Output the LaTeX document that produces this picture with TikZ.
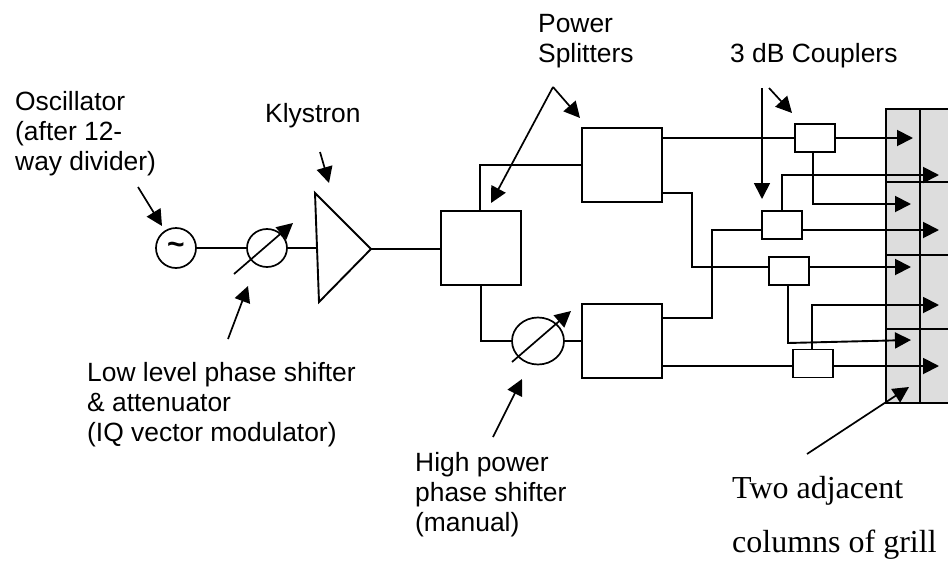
\documentclass[tikz,border=0pt]{standalone}
\usepackage{fontspec}
\setmainfont{Liberation Sans}
\newfontfamily\timesfam{Liberation Serif}
\usetikzlibrary{arrows.meta,shapes.geometric}
\definecolor{grillgray}{HTML}{DDDDDD}
\newcommand{\firstsans}{\rule{0pt}{20pt}}
\newcommand{\firstserif}{\rule{0pt}{24pt}}
\tikzset{
  x=1pt,y=-1pt,
  wire/.style={line width=1.9pt,line join=miter},
  arr/.style={wire,-{Triangle[length=16pt,width=16pt]}},
  callout/.style={line width=1.7pt,-{Triangle[length=16pt,width=16pt]}},
  boxn/.style={draw,line width=1.9pt,fill=white,minimum width=80pt,minimum height=74pt,inner sep=0pt,outer sep=0pt},
  coupler/.style={draw,line width=1.9pt,fill=white,minimum width=40pt,minimum height=28pt,inner sep=0pt,outer sep=0pt},
  lab/.style={font=\fontsize{26.4}{30.3}\selectfont,align=left,anchor=north west,inner sep=0pt},
  serif/.style={font=\timesfam\fontsize{32}{54}\selectfont,align=left,anchor=north west,inner sep=0pt},
}
\begin{document}
\begin{tikzpicture}
\useasboundingbox (0,0) rectangle (948,565);
% grill
\fill[grillgray] (886,109) rectangle (948,403);
\draw[wire] (948,109) -- (886,109) -- (886,403) -- (948,403);
\draw[wire] (920,109) -- (920,403);
\foreach \yy in {182,255,329} \draw[wire] (886,\yy) -- (948,\yy);
% components
\node[draw,circle,line width=1.7pt,minimum size=40pt,inner sep=0pt,outer sep=0pt,font=\bfseries\fontsize{30}{30}\selectfont] (osc) at (176,248) {\raisebox{-2pt}{\textasciitilde}};
\node[draw,ellipse,line width=1.7pt,minimum width=40pt,minimum height=38pt,inner sep=0pt,outer sep=0pt] (lps) at (267,248) {};
\coordinate (k1) at (315,193); \coordinate (k2) at (319,302); \coordinate (kout) at (371,249); \coordinate (kin) at (317,248);
\draw[wire] (k1) -- (kout) -- (k2) -- cycle;
\node[boxn] (sa) at (481,248) {};
\node[boxn] (sb) at (622,165) {};
\node[boxn] (sc) at (622,341) {};
\node[draw,ellipse,line width=1.7pt,minimum width=52pt,minimum height=47pt,inner sep=0pt,outer sep=0pt] (hps) at (538,341) {};
\node[coupler] (c1) at (815,138) {};
\node[coupler] (c2) at (782,225) {};
\node[coupler] (c3) at (789,271) {};
\node[coupler] (c4) at (813,363.5) {};
% wires
\draw[wire] (osc.east) -- (lps.west);
\draw[wire] (lps.east) -- (kin);
\draw[wire] (kout) -- (kout -| sa.west);
\coordinate (ja) at (480,165);
\draw[wire] (ja |- sa.north) -- (ja) -- (ja -| sb.west);
\coordinate (jb) at (481,341);
\draw[wire] (jb |- sa.south) -- (jb) -- (hps.west);
\draw[wire] (hps.east) -- (hps.east -| sc.west);
\coordinate (b1) at (662,138); \coordinate (b2) at (662,193);
\coordinate (c1y) at (692,193); \coordinate (c1z) at (692,267);
\draw[wire] (b1) -- (b1 -| c1.west);
\draw[wire] (b2) -- (c1y) -- (c1z) -- (c1z -| c3.west);
\coordinate (s1) at (662,318); \coordinate (s2) at (712,318); \coordinate (s3) at (712,230);
\draw[wire] (s1) -- (s2) -- (s3) -- (s3 -| c2.west);
\coordinate (s4) at (662,366);
\draw[wire] (s4) -- (s4 -| c4.west);
% outputs
\coordinate (t1) at (913,138); \draw[arr] (c1.east |- t1) -- (t1);
\coordinate (t1b) at (911,204); \coordinate (d1) at (813,204);
\draw[arr] (d1 |- c1.south) -- (d1) -- (t1b);
\coordinate (d2) at (782,175); \coordinate (t2b) at (939,175);
\draw[arr] (d2 |- c2.north) -- (d2) -- (t2b);
\coordinate (t2) at (939,230); \draw[arr] (c2.east |- t2) -- (t2);
\coordinate (t3) at (911,267); \draw[arr] (c3.east |- t3) -- (t3);
\coordinate (d3) at (788,343); \coordinate (t3b) at (911,340);
\draw[arr] (d3 |- c3.south) -- (d3) -- (t3b);
\coordinate (d4) at (812,305); \coordinate (t4b) at (939,305);
\draw[arr] (d4 |- c4.north) -- (d4) -- (t4b);
\coordinate (t4) at (939,366); \draw[arr] (c4.east |- t4) -- (t4);
% variable arrows
\coordinate (v1) at (234,274); \coordinate (v1t) at (293,223);
\draw[callout] (v1) -- (v1t);
\coordinate (v2) at (512,362); \coordinate (v2t) at (571,311);
\draw[callout] (v2) -- (v2t);
% labels
\node[lab] (tosc) at (15,90) {\firstsans Oscillator\\(after 12-\\way divider)};
\node[lab] (tkly) at (265,102) {\firstsans Klystron};
\node[lab] (tpow) at (538,12) {\firstsans Power\\Splitters};
\node[lab] (tcoup) at (730,42) {\firstsans 3 dB Couplers};
\node[lab] (tlow) at (87,361) {\firstsans Low level phase shifter\\\&\ attenuator\\(IQ vector modulator)};
\node[lab] (thigh) at (415,451) {\firstsans High power\\phase shifter\\(manual)};
\node[serif] (tgrill) at (732,474) {\firstserif Two adjacent\\columns of grill};
% callouts
\coordinate (a1s) at (138,187); \coordinate (a1t) at (162,226); \draw[callout] (a1s) -- (a1t);
\coordinate (a2s) at (320,152); \coordinate (a2t) at (329,183); \draw[callout] (a2s) -- (a2t);
\coordinate (a3s) at (228,339); \coordinate (a3t) at (248,286); \draw[callout] (a3s) -- (a3t);
\coordinate (a4s) at (553,87); \coordinate (a4t) at (491,203); \draw[callout] (a4s) -- (a4t);
\coordinate (a5t) at (580,118); \draw[callout] (a4s) -- (a5t);
\coordinate (a6s) at (493,437); \coordinate (a6t) at (522,379); \draw[callout] (a6s) -- (a6t);
\coordinate (a7s) at (762,88); \coordinate (a7t) at (762,199); \draw[callout] (a7s) -- (a7t);
\coordinate (a8s) at (769,88); \coordinate (a8t) at (792,113); \draw[callout] (a8s) -- (a8t);
\coordinate (a9s) at (807,454); \coordinate (a9t) at (909,387); \draw[callout] (a9s) -- (a9t);
\end{tikzpicture}
\end{document}
